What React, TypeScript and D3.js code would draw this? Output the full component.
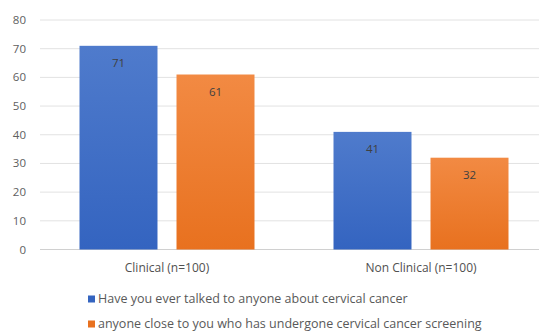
import React from "react";
import * as d3 from "d3";

const categories = ["Clinical (n=100)", "Non Clinical (n=100)"];
const seriesNames = [
  "Have you ever talked to anyone about cervical cancer",
  "anyone close to you who has undergone cervical cancer screening",
];
const talkedValues = [71, 41];
const screeningValues = [61, 32];
const yTicks = [0, 10, 20, 30, 40, 50, 60, 70, 80];

const W = 539;
const H = 333;
const colors = [
  { top: "#4f7bcc", bottom: "#3464c0" },
  { top: "#f28a43", bottom: "#e8711f" },
];
const font = "'Open Sans', 'Liberation Sans', sans-serif";

export default function App() {
  const values = [talkedValues, screeningValues];
  const y = d3.scaleLinear().domain([0, 80]).range([249.5, 20]);
  const x0 = d3.scaleBand<string>().domain(categories).range([40, 548]).padding(0);
  const groupW = 175;
  const x1 = d3
    .scaleBand<number>()
    .domain([0, 1])
    .range([0, groupW])
    .paddingInner(0.196)
    .paddingOuter(0);
  const groupOffset = (x0.bandwidth() - groupW) / 2;

  return (
    <svg
      width={W}
      height={H}
      style={{ position: "absolute", left: 0, top: 0, background: "#fff" }}
      fontFamily={font}
    >
      <defs>
        {colors.map((c, i) => (
          <linearGradient key={i} id={`g${i}`} x1="0" y1="0" x2="0" y2="1">
            <stop offset="0%" stopColor={c.top} />
            <stop offset="100%" stopColor={c.bottom} />
          </linearGradient>
        ))}
      </defs>
      {yTicks.map((t) => (
        <g key={t}>
          <line
            x1={40}
            x2={W}
            y1={y(t)}
            y2={y(t)}
            stroke={t === 0 ? "#d0d0d0" : "#e2e2e2"}
            strokeWidth={1}
          />
          <text
            x={26}
            y={y(t)}
            dy="0.35em"
            textAnchor="end"
            fontSize={11.5}
            fill="#606060"
          >
            {t}
          </text>
        </g>
      ))}
      {categories.map((cat, ci) => (
        <g key={cat} transform={`translate(${x0(cat)! + groupOffset},0)`}>
          {values.map((vals, si) => {
            const v = vals[ci];
            const bx = x1(si)!;
            const bw = x1.bandwidth();
            return (
              <g key={si}>
                <rect
                  x={bx}
                  y={y(v)}
                  width={bw}
                  height={y(0) - y(v)}
                  fill={`url(#g${si})`}
                />
                <text
                  x={bx + bw / 2}
                  y={y(v) + 17}
                  dy="0.35em"
                  textAnchor="middle"
                  fontSize={11.5}
                  fill="#404040"
                >
                  {v}
                </text>
              </g>
            );
          })}
          <text
            x={groupW / 2}
            y={268}
            dy="0.35em"
            textAnchor="middle"
            fontSize={12}
            fill="#505050"
          >
            {cat}
          </text>
        </g>
      ))}
      {seriesNames.map((name, i) => (
        <g key={name} transform={`translate(88,${299 + i * 25})`}>
          <rect x={0} y={-3.5} width={7} height={7} fill={colors[i].bottom} />
          <text x={10} y={0} dy="0.35em" fontSize={12.5} fill="#595959">
            {name}
          </text>
        </g>
      ))}
    </svg>
  );
}
